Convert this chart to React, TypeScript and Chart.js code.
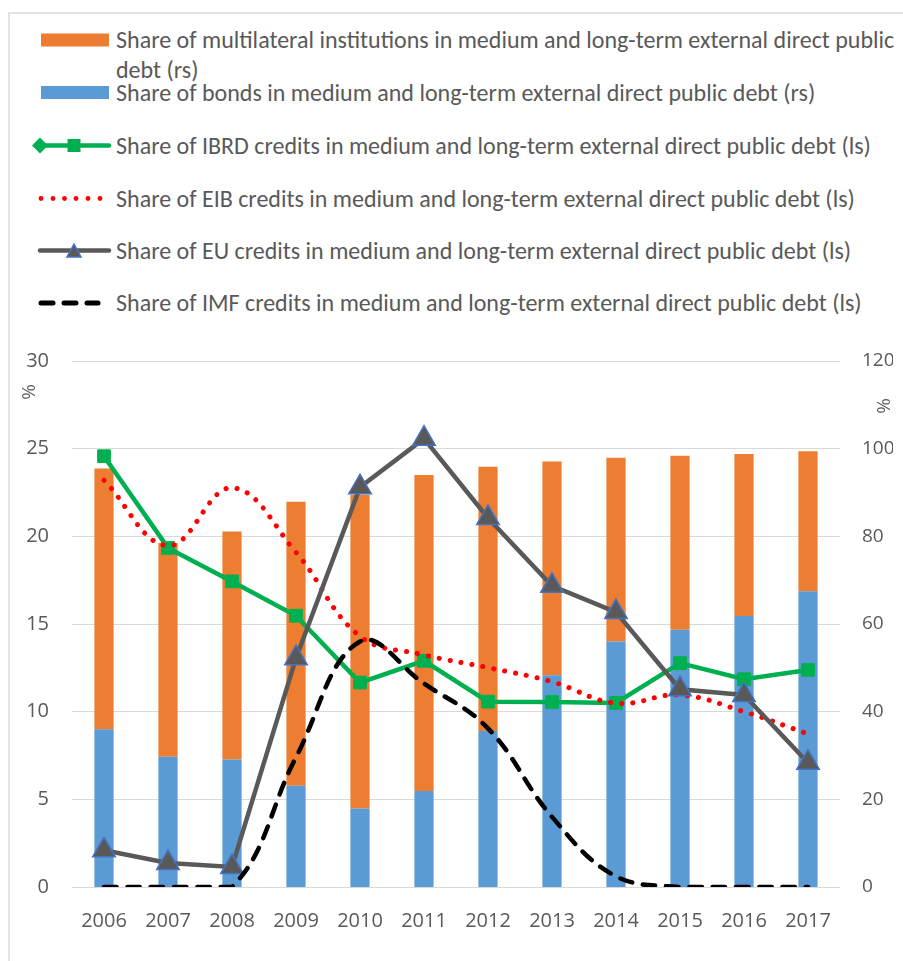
import React, { useEffect, useRef } from "react";
import { Chart, registerables } from "chart.js";

Chart.register(...registerables);

// ---------- DATA ----------
const years = ["2006", "2007", "2008", "2009", "2010", "2011", "2012", "2013", "2014", "2015", "2016", "2017"];
// right scale (%)
const multilateralShare = [59.5, 48.8, 52.0, 64.8, 71.6, 72.1, 60.3, 48.8, 41.9, 39.7, 37.0, 31.9];
const bondsShare = [36.0, 29.7, 29.1, 23.1, 17.9, 21.9, 35.6, 48.3, 56.0, 58.7, 61.8, 67.5];
// left scale (%)
const ibrdShare = [24.57, 19.34, 17.43, 15.47, 11.66, 12.9, 10.57, 10.55, 10.5, 12.77, 11.85, 12.38];
const eibShare = [23.2, 19.47, 22.77, 19.09, 14.3, 13.24, 12.51, 11.71, 10.48, 10.95, 10.0, 8.73];
const euShare = [2.1, 1.37, 1.14, 13.05, 22.8, 25.57, 21.05, 17.18, 15.68, 11.28, 10.95, 7.09];
const imfShare = [0, 0, 0, 7.4, 14.0, 11.6, 9.05, 4.0, 0.6, 0, 0, 0];

const leftAxis = { min: 0, max: 30, step: 5 };
const rightAxis = { min: 0, max: 120, step: 20 };

const legendLabels = [
  "Share of multilateral institutions in medium and long-term external direct public",
  "debt (rs)",
  "Share of bonds in medium and long-term external direct public debt (rs)",
  "Share of IBRD credits in medium and long-term external direct public debt (ls)",
  "Share of EIB credits in medium and long-term external direct public debt (ls)",
  "Share of EU credits in medium and long-term external direct public debt (ls)",
  "Share of IMF credits in medium and long-term external direct public debt (ls)",
];

const ORANGE = "#ED7D31";
const BLUE = "#5B9BD5";
const GREEN = "#00B050";
const RED = "#FF0000";
const GRAY = "#595959";
const TRI_EDGE = "#4472C4";
const TEXT = "#595959";
const TICK_FONT = "'Open Sans', sans-serif";
const LEGEND_FONT = "Carlito, Calibri, Lato, sans-serif";

const percentPlugin = {
  id: "percentTitles",
  afterDraw(chart: any) {
    const { ctx, chartArea, scales } = chart;
    ctx.save();
    ctx.fillStyle = TEXT;
    ctx.font = `19px ${TICK_FONT}`;
    ctx.textAlign = "center";
    ctx.textBaseline = "middle";
    ctx.save();
    ctx.translate(scales.y.left + 20, chartArea.top + 31);
    ctx.rotate(-Math.PI / 2);
    ctx.fillText("%", 0, 0);
    ctx.restore();
    ctx.save();
    ctx.translate(scales.y1.right - 8, chartArea.top + 45);
    ctx.rotate(-Math.PI / 2);
    ctx.fillText("%", 0, 0);
    ctx.restore();
    ctx.restore();
  },
};

function LegendSymbols() {
  return (
    <svg width={120} height={320} style={{ position: "absolute", left: 0, top: 0 }}>
      <rect x={41} y={33.5} width={68} height={13} fill={ORANGE} />
      <rect x={41} y={86} width={68} height={13} fill={BLUE} />
      <line x1={36} y1={145.5} x2={109} y2={145.5} stroke={GREEN} strokeWidth={4.5} strokeLinecap="round" />
      <polygon points="40,137.5 48,145.5 40,153.5 32,145.5" fill={GREEN} />
      <rect x={67.5} y={139} width={13} height={13} fill={GREEN} />
      {[41, 53, 64.5, 76, 88, 100].map((cx) => (
        <circle key={cx} cx={cx} cy={198.5} r={2.4} fill={RED} />
      ))}
      <line x1={40} y1={250.5} x2={109} y2={250.5} stroke={GRAY} strokeWidth={4.5} strokeLinecap="round" />
      <polygon points="74,244 81,257 67,257" fill={GRAY} stroke={TRI_EDGE} strokeWidth={1.5} />
      <line x1={41} y1={303} x2={53} y2={303} stroke="#000" strokeWidth={5} strokeLinecap="round" />
      <line x1={64} y1={303} x2={76} y2={303} stroke="#000" strokeWidth={5} strokeLinecap="round" />
      <line x1={87} y1={303} x2={98} y2={303} stroke="#000" strokeWidth={5} strokeLinecap="round" />
    </svg>
  );
}

export default function App() {
  const canvasRef = useRef<HTMLCanvasElement | null>(null);

  useEffect(() => {
    document.body.style.margin = "0";
    const canvas = canvasRef.current;
    if (!canvas) return;
    const tickFont = { family: TICK_FONT, size: 20 };
    const rightTickFont = { family: TICK_FONT, size: 19 };
    const chart = new Chart(canvas, {
      type: "bar",
      data: {
        labels: years,
        datasets: [
          {
            type: "line",
            label: legendLabels[6],
            data: imfShare,
            yAxisID: "y",
            borderColor: "#000000",
            borderWidth: 4.5,
            borderDash: [12.5, 10.8],
            borderCapStyle: "round",
            tension: 0.4,
            pointRadius: 0,
            fill: false,
            order: 1,
          },
          {
            type: "line",
            label: legendLabels[5],
            data: euShare,
            yAxisID: "y",
            borderColor: GRAY,
            borderWidth: 4.5,
            tension: 0,
            pointStyle: "triangle",
            pointRadius: 13,
            pointBackgroundColor: GRAY,
            pointBorderColor: TRI_EDGE,
            pointBorderWidth: 1.5,
            fill: false,
            order: 2,
          },
          {
            type: "line",
            label: legendLabels[4],
            data: eibShare,
            yAxisID: "y",
            borderColor: RED,
            borderWidth: 5,
            borderDash: [0.1, 11],
            borderCapStyle: "round",
            tension: 0.4,
            pointRadius: 0,
            fill: false,
            order: 3,
          },
          {
            type: "line",
            label: legendLabels[3],
            data: ibrdShare,
            yAxisID: "y",
            borderColor: GREEN,
            borderWidth: 4.5,
            tension: 0,
            pointStyle: "rect",
            pointRadius: 9,
            pointBackgroundColor: GREEN,
            pointBorderColor: GREEN,
            pointBorderWidth: 1,
            fill: false,
            order: 4,
          },
          {
            type: "bar",
            label: legendLabels[2],
            data: bondsShare,
            yAxisID: "y1",
            backgroundColor: BLUE,
            stack: "bars",
            barPercentage: 0.3,
            categoryPercentage: 1,
            order: 5,
          },
          {
            type: "bar",
            label: legendLabels[0] + " " + legendLabels[1],
            data: multilateralShare,
            yAxisID: "y1",
            backgroundColor: ORANGE,
            stack: "bars",
            barPercentage: 0.3,
            categoryPercentage: 1,
            order: 6,
          },
        ],
      } as any,
      options: {
        responsive: false,
        animation: false,
        devicePixelRatio: 1,
        layout: { padding: { left: 10, right: 10, top: 361, bottom: 24 } },
        plugins: {
          legend: { display: false },
          tooltip: { enabled: false },
          title: { display: false },
        },
        scales: {
          x: {
            grid: { display: false },
            border: { display: false },
            ticks: { font: tickFont, color: TEXT, padding: 14, maxRotation: 0 },
            afterFit: (s: any) => {
              s.height = 50;
            },
          },
          y: {
            position: "left",
            min: leftAxis.min,
            max: leftAxis.max,
            grid: { color: "#D9D9D9", lineWidth: 1, drawTicks: false },
            border: { display: false },
            ticks: { stepSize: leftAxis.step, font: tickFont, color: TEXT, padding: 23 },
            afterFit: (s: any) => {
              s.width = 62;
            },
          },
          y1: {
            position: "right",
            stacked: true,
            min: rightAxis.min,
            max: rightAxis.max,
            grid: { display: false, drawTicks: false },
            border: { display: false },
            ticks: { stepSize: rightAxis.step, font: rightTickFont, color: TEXT, padding: 22 },
            afterFit: (s: any) => {
              s.width = 53;
            },
          },
        },
      } as any,
      plugins: [percentPlugin],
    });
    return () => chart.destroy();
  }, []);

  const rowCenters = [40, 70, 93, 145.5, 198.5, 250.5, 303];

  return (
    <div style={{ position: "relative", width: 903, height: 961, overflow: "hidden", background: "#fff" }}>
      <div
        style={{
          position: "absolute",
          left: 8,
          top: 12,
          width: 1000,
          height: 1000,
          borderLeft: "2px solid #E3E3E3",
          borderTop: "2px solid #E3E3E3",
        }}
      />
      <LegendSymbols />
      {legendLabels.map((t, i) => (
        <div
          key={i}
          style={{
            position: "absolute",
            left: 116,
            top: rowCenters[i] - 15,
            height: 30,
            lineHeight: "30px",
            fontFamily: LEGEND_FONT,
            fontSize: 24,
            color: TEXT,
            whiteSpace: "nowrap",
          }}
        >
          {t}
        </div>
      ))}
      <canvas
        ref={canvasRef}
        width={903}
        height={961}
        style={{ position: "absolute", left: 0, top: 0, width: 903, height: 961 }}
      />
    </div>
  );
}
